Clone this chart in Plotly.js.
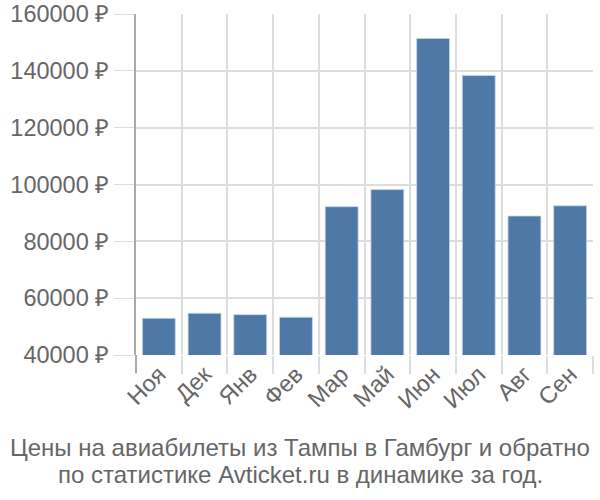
<!DOCTYPE html>
<html>
<head>
<meta charset="utf-8">
<script src="https://cdn.plot.ly/plotly-3.0.1.min.js"></script>
<style>html,body{margin:0;padding:0;background:#fff;}#chart{width:600px;height:500px;}</style>
</head>
<body>
<div id="chart"></div>
<script>
const months = ["Ноя", "Дек", "Янв", "Фев", "Мар", "Май", "Июн", "Июл", "Авг", "Сен"];
const prices = [52900, 54700, 54200, 53300, 92200, 98200, 151400, 138400, 88900, 92500];
const yTicks = [40000, 60000, 80000, 100000, 120000, 140000, 160000];
const yTickText = ["40000 ₽", "60000 ₽", "80000 ₽", "100000 ₽", "120000 ₽", "140000 ₽", "160000 ₽"];
const titleLines = ["Цены на авиабилеты из Тампы в Гамбург и обратно", "по статистике Avticket.ru в динамике за год."];

const font = "'Liberation Sans', Arial, sans-serif";
const L = 136, R = 7, W = 600, H = 500, T = 14, B = 145;
const plotW = W - L - R, plotH = H - T - B;
const cx = (300 - L) / plotW;
const yPaper = py => (H - B - py) / plotH;

Plotly.newPlot('chart', [{
  type: 'bar',
  x: months,
  y: prices,
  marker: {color: '#4e79a7', line: {color: 'rgba(200,215,235,0.8)', width: 1}},
  hoverinfo: 'x+y'
}], {
  width: W, height: H,
  margin: {l: L, r: R, t: T, b: B},
  paper_bgcolor: '#fff', plot_bgcolor: '#fff',
  bargap: 0.28,
  font: {family: font, color: '#666'},
  annotations: titleLines.map((t, i) => ({
    text: t, showarrow: false,
    xref: 'paper', yref: 'paper',
    x: cx, xanchor: 'center',
    y: yPaper(447 + i * 27), yanchor: 'middle',
    font: {family: font, size: 24, color: '#666'}
  })),
  shapes: [{
    type: 'line', xref: 'paper', yref: 'paper',
    x0: 0, x1: 0, y0: 0, y1: yPaper(373),
    line: {color: '#aaa', width: 2}
  }],
  xaxis: {
    type: 'category',
    tickson: 'boundaries',
    ticks: 'outside', ticklen: 18, tickcolor: '#ddd', tickwidth: 2,
    showgrid: true, gridcolor: '#ddd', gridwidth: 2,
    tickangle: -45,
    tickfont: {family: font, size: 23.5, color: '#666'},
    showline: false, zeroline: false
  },
  yaxis: {
    range: [40000, 160000],
    tickmode: 'array',
    tickvals: yTicks,
    ticktext: yTickText,
    ticks: 'outside', ticklen: 20, tickcolor: '#ddd', tickwidth: 1,
    showgrid: true, gridcolor: '#ddd', gridwidth: 2,
    showline: true, linecolor: '#aaa', linewidth: 2,
    tickfont: {family: font, size: 23.5, color: '#666'},
    zeroline: false
  },
  showlegend: false
}, {displayModeBar: false, staticPlot: true});
</script>
</body>
</html>
